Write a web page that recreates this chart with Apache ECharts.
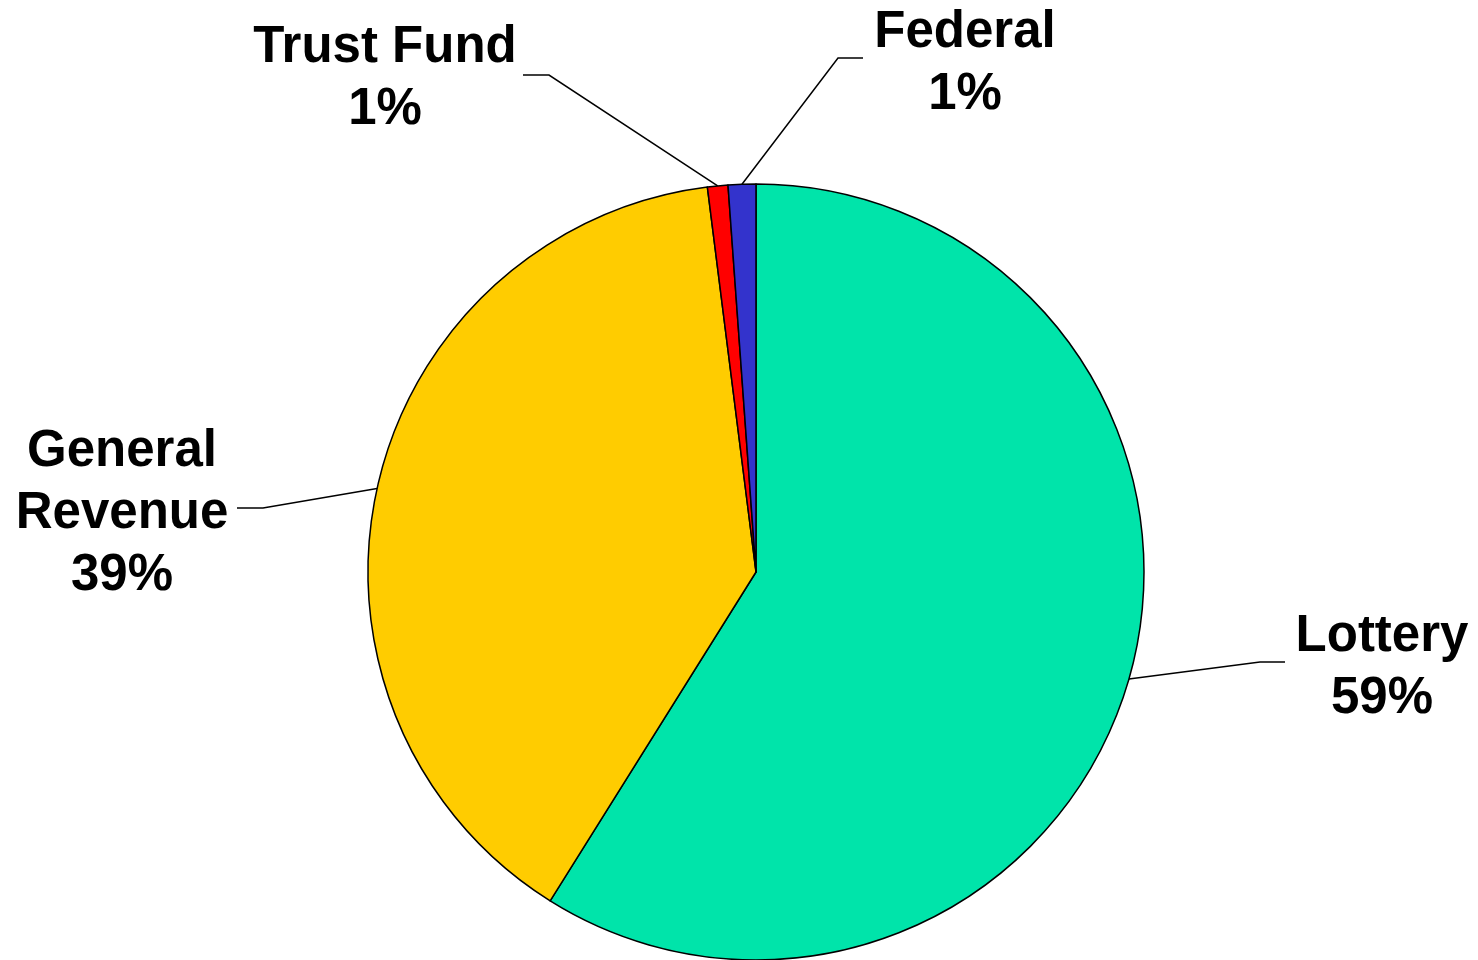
<!DOCTYPE html>
<html>
<head>
<meta charset="utf-8">
<script src="https://cdn.jsdelivr.net/npm/echarts@6/dist/echarts.min.js"></script>
<style>
html,body{margin:0;padding:0;background:#fff;}
#chart{width:1478px;height:960px;}
</style>
</head>
<body>
<div id="chart"></div>
<script>
// Data
const categories = ['Lottery', 'General\nRevenue', 'Trust Fund', 'Federal'];
const values = [58.9, 39.1, 0.85, 1.15];
const sliceColors = ['#00E4AA', '#FFCC00', '#FF0000', '#3333CC'];

// Label placement (layout, not data)
const labelPos = [
  { x: 1382, y: 668, bend: [1260, 662], end: [1285, 662] },
  { x: 122,  y: 514, bend: [263, 508],  end: [237, 508] },
  { x: 385,  y: 79,  bend: [549, 75],   end: [523, 75] },
  { x: 965,  y: 64,  bend: [838, 58],   end: [863, 58] }
];

const chart = echarts.init(document.getElementById('chart'), null, { renderer: 'canvas' });
chart.setOption({
  animation: false,
  backgroundColor: '#ffffff',
  series: [{
    type: 'pie',
    center: [756, 572],
    radius: 388,
    startAngle: 90,
    clockwise: true,
    percentPrecision: 0,
    avoidLabelOverlap: false,
    data: categories.map((c, i) => ({
      name: c,
      value: values[i],
      itemStyle: { color: sliceColors[i] }
    })),
    itemStyle: { borderColor: '#000', borderWidth: 1.5 },
    label: {
      show: true,
      position: 'outside',
      formatter: '{b}\n{d}%',
      fontFamily: 'Liberation Sans, Arial, sans-serif',
      fontWeight: 'bold',
      fontSize: 51,
      lineHeight: 62,
      color: '#000',
      align: 'center'
    },
    labelLine: {
      show: true,
      length: 30,
      length2: 30,
      lineStyle: { color: '#000', width: 1.5 }
    },
    emphasis: { disabled: true },
    labelLayout: function (params) {
      const p = labelPos[params.dataIndex];
      const start = params.labelLinePoints && params.labelLinePoints[0];
      const out = { x: p.x, y: p.y, align: 'center', verticalAlign: 'middle' };
      if (start) {
        out.labelLinePoints = [start, p.bend, p.end];
      }
      return out;
    }
  }]
});
</script>
</body>
</html>
